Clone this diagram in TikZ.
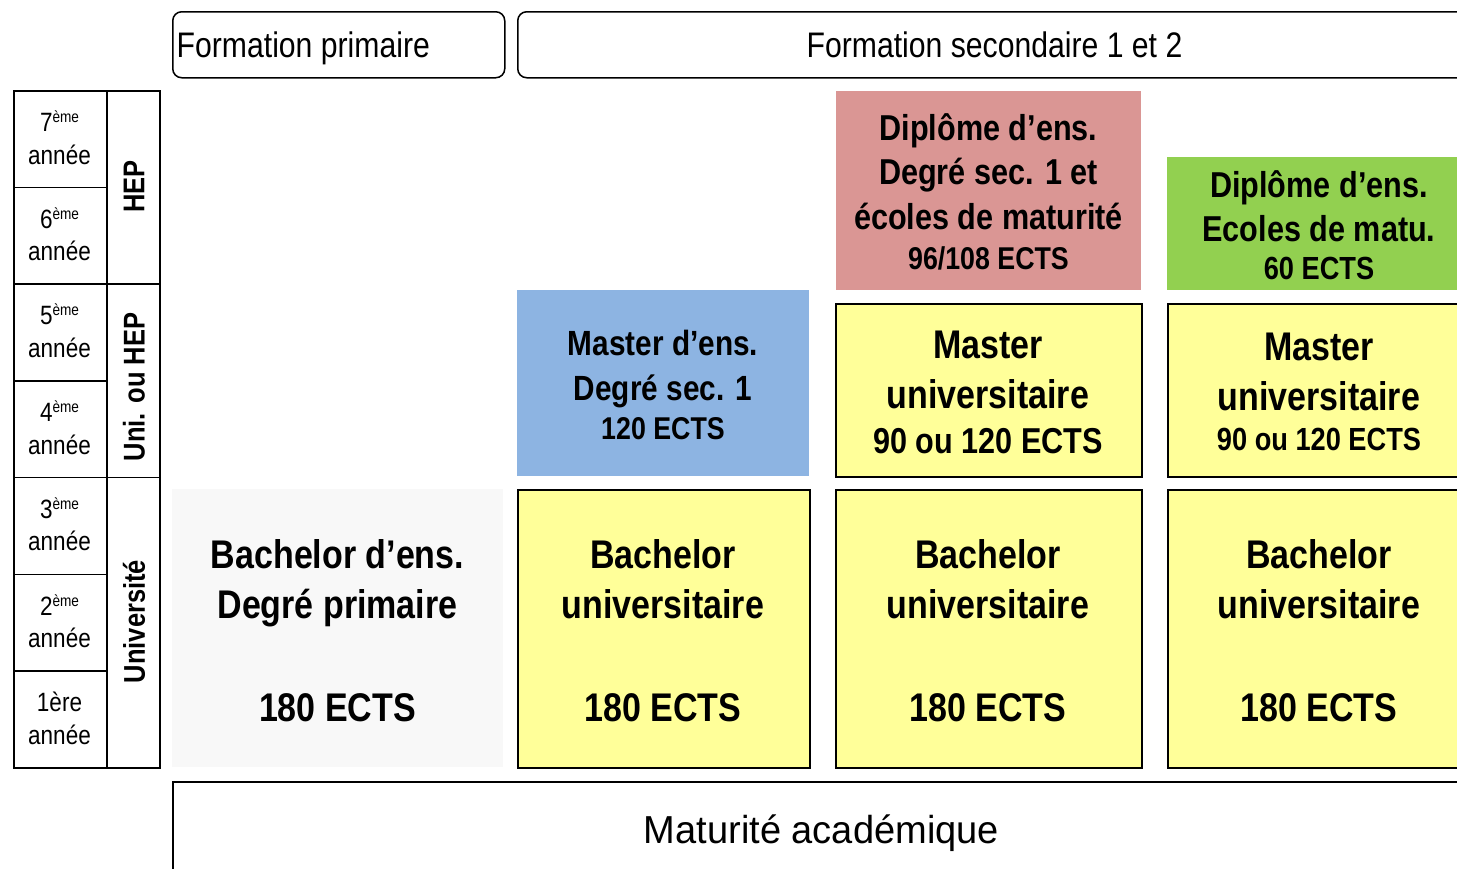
\documentclass[tikz,border=0pt]{standalone}
\usepackage{fontspec}
\setmainfont{Liberation Sans}[FakeStretch=0.85]
\newfontfamily\widefont{Liberation Sans}[FakeStretch=0.975]
\definecolor{cyellow}{HTML}{FFFF99}
\definecolor{cblue}{HTML}{8DB4E2}
\definecolor{cred}{HTML}{DA9694}
\definecolor{cgreen}{HTML}{92D050}
\definecolor{cgrey}{HTML}{F8F8F8}
\newcommand\expo[1]{\raisebox{9pt}{\fontsize{16}{16}\selectfont #1}}
\tikzset{
  frame/.style={draw=black, line width=1.8pt, inner sep=0pt, anchor=north west},
  plain/.style={inner sep=0pt, anchor=north west},
  hdr/.style={draw=black, line width=1.5pt, rounded corners=9pt, inner sep=0pt, anchor=north west},
  cell/.style={draw=black, line width=1.6pt, inner sep=0pt, anchor=north west, minimum width=93pt, minimum height=96.71pt},
  tbig/.style={inner sep=0pt, anchor=base, font=\bfseries\fontsize{40}{48}\selectfont},
  tmid/.style={inner sep=0pt, anchor=base, font=\bfseries\fontsize{36}{43}\selectfont},
  tblue/.style={inner sep=0pt, anchor=base, font=\bfseries\fontsize{35}{42}\selectfont},
  tsmall/.style={inner sep=0pt, anchor=base, font=\bfseries\fontsize{31.5}{38}\selectfont},
  tyear/.style={inner sep=0pt, anchor=base, font=\fontsize{26.5}{32}\selectfont},
  tside/.style={inner sep=0pt, rotate=90, font=\bfseries\fontsize{30}{36}\selectfont},
  thead/.style={inner sep=0pt, font=\fontsize{35.5}{42}\selectfont},
}
\begin{document}
\begin{tikzpicture}[x=1pt,y=-1pt]
\useasboundingbox (0,0) rectangle (1457,868);
\clip (0,0) rectangle (1457,868);

% headers
\node[hdr, minimum width=332pt, minimum height=66pt] (hprim) at (172,11) {};
\node[hdr, minimum width=954pt, minimum height=66pt] (hsec) at (517,11) {};
\node[thead, anchor=base west] (hprimt) at (176.5,57.5) {Formation primaire};
\node[thead, anchor=base] (hsect) at (994.5,57.5) {Formation secondaire 1 et 2};

% left table: years
\foreach \k/\lab in {0/7\expo{ème}, 1/6\expo{ème}, 2/5\expo{ème}, 3/4\expo{ème}, 4/3\expo{ème}, 5/2\expo{ème}, 6/1ère}{
  \node[cell] (y\k) at (13,{90+96.71*\k}) {};
  \node[tyear] (y\k a) at (59.5,{90+96.71*\k+41.5}) {\lab};
  \node[tyear] (y\k b) at (59.5,{90+96.71*\k+74}) {année};
}
% left table: institutions
\node[cell, minimum width=53pt, minimum height=193.42pt] (hep) at (106,90) {};
\node[cell, minimum width=53pt, minimum height=193.42pt] (unihep) at (106,283.42) {};
\node[cell, minimum width=53pt, minimum height=290.13pt] (uni) at (106,476.84) {};
\node[tside] (hept) at (134,186.5) {HEP};
\node[tside] (unihept) at (134,387) {Uni. ou HEP};
\node[tside] (unit) at (134,621.5) {Université};

% coloured blocks
\node[plain, fill=cgrey, minimum width=331pt, minimum height=278pt] (bprim) at (172,489) {};
\node[frame, fill=cyellow, minimum width=292pt, minimum height=278pt] (b1) at (517,489) {};
\node[frame, fill=cyellow, minimum width=306pt, minimum height=278pt] (b2) at (835,489) {};
\node[frame, fill=cyellow, minimum width=304pt, minimum height=278pt] (b3) at (1167,489) {};
\node[plain, fill=cblue, minimum width=292pt, minimum height=186pt] (mens) at (517,290) {};
\node[frame, fill=cyellow, minimum width=306pt, minimum height=173pt] (m2) at (835,303) {};
\node[frame, fill=cyellow, minimum width=304pt, minimum height=173pt] (m3) at (1167,303) {};
\node[plain, fill=cred, minimum width=305pt, minimum height=199pt] (dred) at (836,91) {};
\node[plain, fill=cgreen, minimum width=304pt, minimum height=133pt] (dgreen) at (1167,157) {};
\node[frame, line width=1.6pt, minimum width=1299pt, minimum height=120pt] (mat) at (172,781) {};

% texts: bachelors
\node[tbig] (bp1) at (337.5,568) {Bachelor d’ens.};
\node[tbig] (bp2) at (337.5,618) {Degré primaire};
\node[tbig] (bp3) at (337.5,721) {180 ECTS};
\foreach \n/\cx in {1/663, 2/988, 3/1319}{
  \node[tbig] (b\n a) at (\cx,568) {Bachelor};
  \node[tbig] (b\n b) at (\cx,618) {universitaire};
  \node[tbig] (b\n c) at (\cx,721) {180 ECTS};
}

% texts: masters
\node[tblue] (me1) at (663,355) {Master d’ens.};
\node[tblue] (me2) at (663,400) {Degré sec. 1};
\node[tsmall] (me3) at (663,439) {120 ECTS};
\node[tbig] (m2a) at (988,358) {Master};
\node[tbig] (m2b) at (988,408) {universitaire};
\node[tmid] (m2c) at (988,453) {90 ou 120 ECTS};
\node[tbig] (m3a) at (1319,360) {Master};
\node[tbig] (m3b) at (1319,410) {universitaire};
\node[inner sep=0pt, anchor=base, font=\bfseries\fontsize{32}{38}\selectfont] (m3c) at (1319,450) {90 ou 120 ECTS};

% texts: diplomas
\node[tmid] (dr1) at (988.5,140) {Diplôme d’ens.};
\node[tmid] (dr2) at (988.5,184) {Degré sec. 1 et};
\node[tmid] (dr3) at (988.5,229) {écoles de maturité};
\node[tsmall] (dr4) at (988.5,269) {96/108 ECTS};
\node[tmid] (dg1) at (1319,197) {Diplôme d’ens.};
\node[tmid] (dg2) at (1319,241) {Ecoles de matu.};
\node[inner sep=0pt, anchor=base, font=\bfseries\fontsize{32}{38}\selectfont] (dg3) at (1319,279) {60 ECTS};

% maturite
\node[inner sep=0pt, anchor=base, font=\widefont\fontsize{39}{46}\selectfont] (matt) at (821.5,843) {Maturité académique};
\end{tikzpicture}
\end{document}
